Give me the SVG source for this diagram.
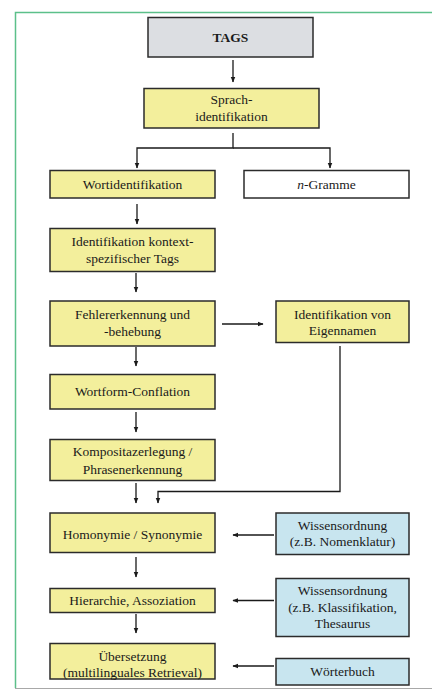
<svg xmlns="http://www.w3.org/2000/svg" width="432" height="697" viewBox="0 0 432 697">
<style>
.box{stroke:#2b2b2b;stroke-width:1.5}
.y{fill:#f3ef9c}
.g{fill:#dcdee2}
.b{fill:#c8e5ef}
.w{fill:#ffffff}
text{font-family:'Liberation Serif','DejaVu Serif',serif;font-size:13.5px;fill:#1a1a1a;text-anchor:middle}
.c{stroke:#1a1a1a;stroke-width:1.3;fill:none}
</style>
<defs>
<marker id="ah" viewBox="0 0 10 10" refX="9" refY="5" markerWidth="6" markerHeight="6" orient="auto" markerUnits="userSpaceOnUse">
<path d="M0,1 L10,5 L0,9 z" fill="#1a1a1a"/>
</marker>
</defs>
<rect x="0" y="0" width="432" height="697" fill="#ffffff"/>
<path d="M15.5,688 L15.5,12.5 L432,12.5" stroke="#5cc08a" stroke-width="1.5" fill="none"/>
<line x1="15" y1="688.5" x2="432" y2="688.5" stroke="#a8a8a8" stroke-width="1.2"/>

<g id="connectors">
<line class="c" x1="233" y1="60" x2="233" y2="82" marker-end="url(#ah)"/>
<polyline class="c" points="233,133 233,148 137,148 137,168" marker-end="url(#ah)"/>
<polyline class="c" points="233,148 330,148 330,168" marker-end="url(#ah)"/>
<line class="c" x1="137" y1="204" x2="137" y2="224" marker-end="url(#ah)"/>
<line class="c" x1="136" y1="273" x2="136" y2="292" marker-end="url(#ah)"/>
<line class="c" x1="222" y1="324" x2="263" y2="324" marker-end="url(#ah)"/>
<line class="c" x1="136" y1="347" x2="136" y2="366" marker-end="url(#ah)"/>
<line class="c" x1="136" y1="412" x2="136" y2="432" marker-end="url(#ah)"/>
<polyline class="c" points="340,346 340,491.5 158,491.5 158,503" marker-end="url(#ah)"/>
<line class="c" x1="136" y1="483" x2="136" y2="503" marker-end="url(#ah)"/>
<line class="c" x1="274" y1="535" x2="233" y2="535" marker-end="url(#ah)"/>
<line class="c" x1="136" y1="557" x2="136" y2="577" marker-end="url(#ah)"/>
<line class="c" x1="274" y1="600.5" x2="233" y2="600.5" marker-end="url(#ah)"/>
<line class="c" x1="136" y1="614" x2="136" y2="633" marker-end="url(#ah)"/>
<line class="c" x1="274" y1="666" x2="233" y2="666" marker-end="url(#ah)"/>
</g>

<g id="tags">
<rect class="box g" x="148" y="17.5" width="165" height="39.5"/>
<text x="230.5" y="42" font-weight="bold">TAGS</text>
</g>
<g id="sprachidentifikation">
<rect class="box y" x="144" y="88.5" width="175" height="39.5"/>
<text x="231.5" y="104">Sprach-</text>
<text x="231.5" y="121">identifikation</text>
</g>
<g id="wortidentifikation">
<rect class="box y" x="50" y="170.5" width="165" height="27.5"/>
<text x="132.5" y="189">Wortidentifikation</text>
</g>
<g id="ngramme">
<rect class="box w" x="244" y="170.5" width="165" height="27.5"/>
<text x="326.5" y="189"><tspan font-style="italic">n</tspan>-Gramme</text>
</g>
<g id="kontext">
<rect class="box y" x="50" y="228.5" width="165" height="43"/>
<text x="132.5" y="246">Identifikation kontext-</text>
<text x="132.5" y="263">spezifischer Tags</text>
</g>
<g id="fehler">
<rect class="box y" x="50" y="301" width="165" height="45"/>
<text x="132.5" y="318.5">Fehlererkennung und</text>
<text x="132.5" y="335.5">-behebung</text>
</g>
<g id="eigennamen">
<rect class="box y" x="276" y="301" width="133" height="41.5"/>
<text x="342.5" y="318.5">Identifikation von</text>
<text x="342.5" y="335">Eigennamen</text>
</g>
<g id="conflation">
<rect class="box y" x="50" y="374.5" width="165" height="34.5"/>
<text x="132.5" y="396">Wortform-Conflation</text>
</g>
<g id="komposita">
<rect class="box y" x="50" y="439.5" width="165" height="41"/>
<text x="132.5" y="456">Kompositazerlegung /</text>
<text x="132.5" y="474">Phrasenerkennung</text>
</g>
<g id="homonymie">
<rect class="box y" x="50" y="513" width="165" height="39.5"/>
<text x="132.5" y="538.5">Homonymie / Synonymie</text>
</g>
<g id="wissen1">
<rect class="box b" x="276" y="513" width="133" height="41.5"/>
<text x="342.5" y="529.5">Wissensordnung</text>
<text x="342.5" y="546">(z.B. Nomenklatur)</text>
</g>
<g id="hierarchie">
<rect class="box y" x="50" y="588.5" width="165" height="24"/>
<text x="132.5" y="605">Hierarchie, Assoziation</text>
</g>
<g id="wissen2">
<rect class="box b" x="276" y="578.5" width="133" height="58"/>
<text x="342.5" y="595">Wissensordnung</text>
<text x="342.5" y="611.5">(z.B. Klassifikation,</text>
<text x="342.5" y="628">Thesaurus</text>
</g>
<g id="uebersetzung">
<rect class="box y" x="50" y="643.5" width="165" height="35.5"/>
<text x="132.5" y="661">Übersetzung</text>
<text x="132.5" y="676.5">(multilinguales Retrieval)</text>
</g>
<g id="woerterbuch">
<rect class="box b" x="276" y="658.5" width="133" height="26.5"/>
<text x="342.5" y="676">Wörterbuch</text>
</g>
</svg>
